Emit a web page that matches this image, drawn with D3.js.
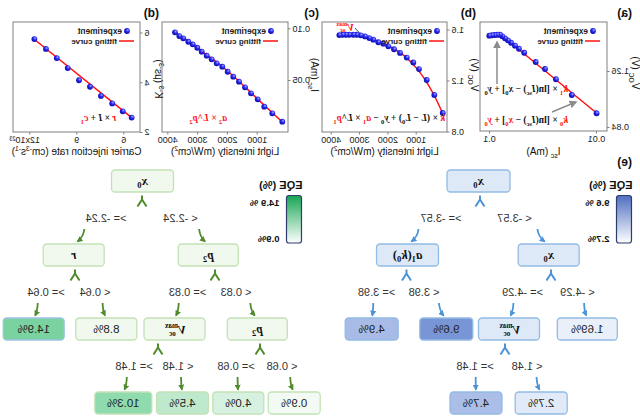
<!DOCTYPE html>
<html><head><meta charset="utf-8">
<script src="https://cdn.jsdelivr.net/npm/d3@7"></script>
<style>body{margin:0;background:#fff}svg{display:block}</style>
</head><body>
<svg id="fig" width="640" height="420"></svg>
<script>
// ---------------- DATA ----------------
// (a) Voc vs Isc
const aIsc = [0.0101,0.0172,0.0242,0.0306,0.0374,0.0479,0.0536,0.0584,0.0636,0.0679,0.0724,0.0767,0.0806,0.0855,0.0904,0.0958,0.1015];
const aVoc = [0.943,1.08,1.198,1.275,1.3275,1.397,1.427,1.45,1.472,1.49,1.505,1.52,1.532,1.532,1.53,1.528,1.525];
const aFitIsc = [0.00958,0.0824,0.1015];
const aFitVoc = [0.93,1.543,1.528];
const aXTicks = [0.01,0.1], aYTicks = [0.84,1.26];
// (b) Voc vs light intensity
const bLight = [81,378,646,918,1119,1352,1588,1800,2001,2177,2354,2531,2672,2824,2976,3117,3237,3378,3494,3611,3731];
const bVoc = [0.945,1.087,1.204,1.29,1.342,1.38,1.416,1.445,1.468,1.489,1.5,1.52,1.533,1.546,1.554,1.559,1.559,1.559,1.559,1.559,1.556];
const bFitL = [35,400,700,1000,1500,2000,2500,3000,3400,3750];
const bFitV = [0.919,1.09,1.205,1.295,1.405,1.47,1.52,1.553,1.561,1.556];
const bXTicks = [1000,2000,3000,4000], bYTicks = [0.8,1.2,1.6];
// (c) Isc vs light intensity
const cLight = [174,510,779,1000,1225,1426,1628,1819,2007,2188,2376,2544,2711,2879,3027,3181,3329,3497,3631,3775];
const cIsc = [0.0097,0.0178,0.0242,0.0313,0.0371,0.0429,0.0484,0.0532,0.058,0.0629,0.0661,0.07,0.0735,0.0774,0.0812,0.0845,0.087,0.0903,0.0925,0.0961];
const cFitL = [140,1000,2000,3000,3800];
const cFitI = [0.0085,0.0315,0.0585,0.0805,0.0968];
const cXTicks = [1000,2000,3000,4000], cYTicks = [0.05,0.10];
// (d) K vs carrier injection rate (x10^23)
const dRate = [11.74,11.0,10.31,9.61,8.89,8.19,7.49,6.77,6.10,5.53];
const dK = [5.735,5.34,4.97,4.57,4.08,3.82,3.45,3.15,2.83,2.58];
const dFitR = [5.43,11.81], dFitK = [2.53,5.76];
const dXTicks = [6,9,12], dYTicks = [2,4,6];
// (e) decision trees
const blueIds     = ['b0','b1','b2','b3','b4','b5','b6','b7','b8'];
const blueParents = [null,'b0','b0','b1','b1','b4','b4','b2','b2'];
const blueLabels  = ['x0','x0','a1(k0)','1.69%','Vmax','2.7%','4.7%','9.6%','4.9%'];
const blueEdges   = ['','< -3.57','>= -3.57','< -4.29','>= -4.29','< 1.48','>= 1.48','< 3.98','>= 3.98'];
const blueEQE     = [null,null,null,1.69,null,2.7,4.7,9.6,4.9];
const blueRange   = ['9.6 %','2.7%'];
const greenIds     = ['g0','g1','g2','g3','g4','g5','g6','g7','g8','g9','g10'];
const greenParents = [null,'g0','g0','g1','g1','g2','g2','g3','g3','g4','g4'];
const greenLabels  = ['x0','p2','r','p2','Vmax','8.8%','14.9%','0.9%','4.0%','4.5%','10.3%'];
const greenEdges   = ['','< -2.24','>= -2.24','< 0.83','>= 0.83','< 0.64','>= 0.64','< 0.68','>= 0.68','< 1.48','>= 1.48'];
const greenEQE     = [null,null,null,null,null,8.8,14.9,0.9,4.0,4.5,10.3];
const greenRange   = ['14.9 %','0.9%'];

// ---------------- LAYOUT / STYLE ----------------
const SANS = "'Liberation Sans', Arial, Helvetica, sans-serif";
const SERIF = "'Liberation Serif', 'DejaVu Serif', 'Times New Roman', serif";
const RED = '#ff1010';
const blueLayout = {
  b0:{x:161.5,w:63,fork:160}, b1:{x:91.3,w:61,fork:89,lx:125.5}, b2:{x:232.5,w:62,fork:233.5,lx:199},
  b3:{x:52.7,w:60,lx:62.5}, b4:{x:131,w:61,fork:135,lx:117.5}, b5:{x:98.8,w:52,lx:113},
  b6:{x:164,w:52,lx:165}, b7:{x:193.7,w:53,lx:216}, b8:{x:268.3,w:53,lx:263.5}
};
const greenLayout = {
  g0:{x:497.5,w:62,fork:498}, g1:{x:431.7,w:60,fork:425,lx:459.5}, g2:{x:566.3,w:61,fork:565,lx:534},
  g3:{x:382.7,w:60,fork:380,lx:404}, g4:{x:465.5,w:61,fork:482,lx:452.5}, g5:{x:533.7,w:61,lx:545},
  g6:{x:606.3,w:61,lx:594}, g7:{x:345.8,w:52,lx:358}, g8:{x:401.7,w:51,lx:404},
  g9:{x:457.5,w:52,lx:462}, g10:{x:516.7,w:57,lx:506}
};
const blueFill = d3.scaleLinear().domain([1.69,2.7,4.8,9.6]).range(['#e9f0fa','#e1eaf8','#a8bce6','#7896d5']).clamp(true);
const greenFill = d3.scaleOrdinal().domain([0.9,4.0,4.5,8.8,10.3,14.9]).range(['#f3faf3','#d6f1df','#bfe9cd','#f1f9ef','#8fdbae','#7ad2a0']);
const blueStyle = {edge:'#4b93d6', inFill:'#dde9f7', stroke:'#93bbe4', fill:v=>blueFill(v), leafStroke:v=>'#93bbe4', top:'#4f6ec0'};
const greenStyle = {edge:'#4f8a2b', inFill:'#f1f8ee', stroke:'#c2e2b6', fill:v=>greenFill(v), leafStroke:v=>v===14.9?'#9fc4e4':'#c2e2b6', top:'#16a554'};
const depthY = d3.scaleLinear().domain([0,3]).range([181,403]);

// ---------------- DRAW ----------------
const svg = d3.select('#fig');
const defs = svg.append('defs');
const rg = defs.append('radialGradient').attr('id','ball').attr('cx','38%').attr('cy','35%').attr('r','65%');
rg.append('stop').attr('offset','0%').attr('stop-color','#a8a8ff');
rg.append('stop').attr('offset','45%').attr('stop-color','#2828f0');
rg.append('stop').attr('offset','100%').attr('stop-color','#0c0cb0');
function arrowMarker(id,color,size){
  defs.append('marker').attr('id',id).attr('viewBox','0 0 10 10').attr('refX',8).attr('refY',5)
    .attr('markerWidth',size).attr('markerHeight',size).attr('orient','auto').attr('markerUnits','userSpaceOnUse')
    .append('path').attr('d','M0,0 L10,5 L0,10 z').attr('fill',color);
}
arrowMarker('arGray','#8c8c8c',8);
arrowMarker('arBlue','#4b93d6',6);
arrowMarker('arGreen','#4f8a2b',6);

// whole figure is mirrored horizontally
const root = svg.append('g').attr('transform','translate(640,0) scale(-1,1)');

function rich(sel, x, y, parts, size, opts={}){
  const t = sel.append('text').attr('x',x).attr('y',y).attr('font-size',size)
    .attr('font-family',opts.family||SERIF).attr('font-weight',opts.weight||'bold')
    .attr('text-anchor',opts.anchor||'start').attr('fill','#111');
  if (opts.rotate) t.attr('transform',`rotate(-90,${x},${y})`);
  let shift = 0;
  parts.forEach(p=>{
    const target = p.sub ? size*0.28 : p.sup ? -size*0.42 : (p.dy||0);
    const ts = t.append('tspan').text(p.t).attr('dy', target-shift);
    shift = target;
    if (p.dx) ts.attr('dx',p.dx);
    if (p.c) ts.attr('fill',p.c);
    if (p.i) ts.attr('font-style','italic');
    if (p.sub||p.sup) ts.attr('font-size',size*0.68);
    if (p.fs) ts.attr('font-size',p.fs);
    if (p.f) ts.attr('font-family',p.f);
  });
  return t;
}
function vmax(sel, x, y, size, color, anchor){
  const s = size*0.6, w = s*1.85;
  return rich(sel, x, y, [
    {t:'V', i:true, c:color},
    {t:'max', fs:s, dy:-size*0.42, c:color},
    {t:'oc', fs:s, dy:size*0.18, dx:-(w*0.82), c:color}
  ], size, {anchor:anchor||'start'});
}

function panel(cfg){
  const g = root.append('g');
  const [x0,x1,y0,y1] = cfg.box;
  const x = cfg.xs, y = cfg.ys;
  g.append('rect').attr('x',x0).attr('y',y0).attr('width',x1-x0).attr('height',y1-y0)
    .attr('fill','none').attr('stroke','#808080').attr('stroke-width',1);
  const style = s=>{ s.select('.domain').remove(); s.selectAll('line').attr('stroke','#808080');
    s.selectAll('text').attr('font-size',9).attr('font-family',SANS).attr('fill','#222'); };
  g.append('g').attr('transform',`translate(0,${y1})`)
    .call(d3.axisBottom(x).tickValues(cfg.xt).tickSize(2.5).tickPadding(2).tickFormat(cfg.xf)).call(style);
  g.append('g').attr('transform',`translate(${x0},0)`)
    .call(d3.axisLeft(y).tickValues(cfg.yt).tickSize(2.5).tickPadding(2).tickFormat(cfg.yf)).call(style);
  const fit = d3.zip(cfg.fx, cfg.fy);
  g.append('path').attr('d', d3.line().x(d=>x(d[0])).y(d=>y(d[1])).curve(cfg.curve||d3.curveLinear)(fit))
    .attr('fill','none').attr('stroke',RED).attr('stroke-width',1.5);
  g.selectAll('circle.pt').data(d3.zip(cfg.px, cfg.py)).join('circle').attr('class','pt')
    .attr('cx',d=>x(d[0])).attr('cy',d=>y(d[1])).attr('r',2.9).attr('fill','url(#ball)');
  const lg = cfg.legend;
  g.append('circle').attr('cx',lg.dot).attr('cy',31).attr('r',2.9).attr('fill','url(#ball)');
  g.append('text').attr('x',lg.dot+5).attr('y',34).text('experiment').attr('font-size',8.3).attr('font-weight','bold').attr('font-family',SANS).attr('fill','#222');
  g.append('line').attr('x1',lg.l0).attr('x2',lg.l1).attr('y1',41).attr('y2',41).attr('stroke',RED).attr('stroke-width',1.5);
  g.append('text').attr('x',lg.l1+2).attr('y',44).text('fitting curve').attr('font-size',8).attr('font-weight','bold').attr('font-family',SANS).attr('fill','#222');
  g.append('text').attr('x',cfg.tag[0]).attr('y',17).text(cfg.tag[1]).attr('font-size',12).attr('font-weight','bold').attr('font-family',SANS).attr('fill','#111');
  rich(g,(x0+x1)/2,155,cfg.xtitle,10,{family:SANS,weight:'normal',anchor:'middle'});
  rich(g,cfg.ytitle[0],cfg.ytitle[1],cfg.ytitle[2],10,{family:SANS,weight:'normal',anchor:'middle',rotate:true});
  return {g,x,y};
}

// (a)
const pa = panel({box:[33,160,22,131],
  xs:d3.scaleLog().domain([0.01,0.1]).range([43,150]), ys:d3.scaleLinear().domain([0.84,1.26]).range([127,71]),
  xt:aXTicks, yt:aYTicks, xf:d=>String(d), yf:d=>d.toFixed(2),
  px:aIsc, py:aVoc, fx:aFitIsc, fy:aFitVoc,
  legend:{dot:47,l0:40,l1:55}, tag:[8,'(a)'],
  xtitle:[{t:'I'},{t:'sc',sub:true},{t:' (mA)'}],
  ytitle:[8,73,[{t:'V'},{t:'OC',sub:true},{t:' (V)'}]]});
pa.g.append('line').attr('x1',143).attr('y1',84).attr('x2',143).attr('y2',42)
  .attr('stroke','#8c8c8c').attr('stroke-width',1.5).attr('marker-end','url(#arGray)');
pa.g.append('line').attr('x1',88).attr('y1',112).attr('x2',64).attr('y2',102)
  .attr('stroke','#8c8c8c').attr('stroke-width',1.5).attr('marker-end','url(#arGray)');
rich(pa.g,72,92,[{t:'k',c:RED,i:true},{t:'1',c:RED,sub:true},{t:' × [ln('},{t:'I',i:true},{t:'sc',sub:true},{t:') − '},{t:'x',i:true},{t:'0',sub:true},{t:'] + '},{t:'y',i:true},{t:'0',sub:true}],9.5);
rich(pa.g,72,123,[{t:'k',c:RED,i:true},{t:'0',c:RED,sub:true},{t:' × [ln('},{t:'I',i:true},{t:'sc',sub:true},{t:') − '},{t:'x',i:true,c:RED},{t:'0',sub:true,c:RED},{t:'] + '},{t:'y',i:true,c:RED},{t:'0',sub:true,c:RED}],9.5);

// (b)
const pbv = panel({box:[193,318,22,132],
  xs:d3.scaleLinear().domain([1000,4000]).range([223.3,308.3]), ys:d3.scaleLinear().domain([0.8,1.6]).range([131.5,29.5]),
  xt:bXTicks, yt:bYTicks, xf:d=>String(d), yf:d=>d.toFixed(1),
  px:bLight, py:bVoc, fx:bFitL, fy:bFitV, curve:d3.curveMonotoneX,
  legend:{dot:203,l0:196,l1:211}, tag:[164,'(b)'],
  xtitle:[{t:'Light intensity (mW/cm'},{t:'2',sup:true},{t:')'}],
  ytitle:[169,75,[{t:'V'},{t:'OC',sub:true},{t:' (V)'}]]});
pbv.g.append('line').attr('x1',285).attr('y1',28).attr('x2',280.5).attr('y2',33).attr('stroke','#222').attr('stroke-width',0.8);
vmax(pbv.g, 286, 30.5, 10, RED);
rich(pbv.g,195,121,[{t:'k',c:RED,i:true},{t:' × ('},{t:'L',i:true},{t:' − '},{t:'L',i:true},{t:'0',sub:true},{t:') + '},{t:'y',i:true},{t:'0',sub:true},{t:' − '},{t:'a',c:RED,i:true},{t:'1',c:RED,sub:true},{t:' × '},{t:'L',i:true},{t:'^'},{t:'p',c:RED,i:true},{t:'1',c:RED,sub:true}],9.5);

// (c)
const pc = panel({box:[352,478,22,132],
  xs:d3.scaleLinear().domain([1000,4000]).range([382.3,471.7]), ys:d3.scaleLinear().domain([0.05,0.10]).range([80,28.3]),
  xt:cXTicks, yt:cYTicks, xf:d=>String(d), yf:d=>d.toFixed(2),
  px:cLight, py:cIsc, fx:cFitL, fy:cFitI, curve:d3.curveMonotoneX,
  legend:{dot:369,l0:362,l1:377}, tag:[321,'(c)'],
  xtitle:[{t:'Light intensity (mW/cm'},{t:'2',sup:true},{t:')'}],
  ytitle:[329,75,[{t:'I'},{t:'sc',sub:true},{t:' (mA)'}]]});
rich(pc.g,413,121,[{t:'a',c:RED,i:true},{t:'2',c:RED,sub:true},{t:' × ',c:RED},{t:'L',c:RED,i:true},{t:'^',c:RED},{t:'p',c:RED,i:true},{t:'2',c:RED,sub:true}],9.5);

// (d)
const pdk = panel({box:[500,627,22,132],
  xs:d3.scaleLinear().domain([6,9]).range([515.7,562.7]), ys:d3.scaleLinear().domain([2,6]).range([132,32.5]),
  xt:dXTicks, yt:dYTicks, xf:d=>d===12?'12x10²³':String(d), yf:d=>String(d),
  px:dRate, py:dK, fx:dFitR, fy:dFitK,
  legend:{dot:513,l0:506,l1:521}, tag:[481,'(d)'],
  xtitle:[{t:'Carrier  injection rate (cm'},{t:'-3',sup:true},{t:'s'},{t:'-1',sup:true},{t:')'}],
  ytitle:[485,79,[{t:'K'},{t:'-3',sup:true},{t:' (μs'},{t:'-3',sup:true},{t:')'}]]});
pdk.g.selectAll('g.tick text').filter(d=>d===12).attr('dx',5);
rich(pdk.g,524,121,[{t:'r',c:RED,i:true},{t:' × '},{t:'I',i:true},{t:' + '},{t:'c',c:RED,i:true},{t:'1',c:RED,sub:true}],9.5);

// (e) label
root.append('text').attr('x',8).attr('y',166).text('(e)').attr('font-size',12).attr('font-weight','bold').attr('font-family',SANS).attr('fill','#111');

// ---------------- TREES ----------------
function nodeLabel(g, cx, cy, lab, isLeaf){
  if (isLeaf){
    g.append('text').attr('x',cx).attr('y',cy+4).attr('text-anchor','middle').text(lab)
      .attr('font-size',11.5).attr('font-family',SANS).attr('fill','#222');
    return;
  }
  if (lab==='Vmax'){ vmax(g, cx-1, cy+4.5, 12, '#111', 'middle'); return; }
  const m = {
    'x0':[{t:'x',i:true},{t:'0',sub:true}],
    'p2':[{t:'p',i:true},{t:'2',sub:true}],
    'r':[{t:'r',i:true}],
    'a1(k0)':[{t:'a',i:true},{t:'1',sub:true},{t:'('},{t:'k',i:true},{t:'0',sub:true},{t:')'}]
  }[lab];
  rich(g,cx,cy+3.5,m,12.5,{anchor:'middle'});
}

function tree(ids, parents, labels, edges, eqe, layout, st, markerId){
  const g = root.append('g');
  const data = ids.map((id,i)=>({id, parentId:parents[i], label:labels[i], edge:edges[i], eqe:eqe[i]}));
  const h = d3.stratify()(data);
  const H = 22;
  h.each(n=>{ n.cx = layout[n.id].x; n.cy = depthY(n.depth); n.w = layout[n.id].w; });
  h.each(n=>{
    if (!n.children) return;
    const fx = layout[n.id].fork, top = n.cy + H/2 + 3.5;
    g.append('path').attr('d',`M${fx},${top} L${fx},${top+4} M${fx-4.5},${top+11} L${fx},${top+4} L${fx+4.5},${top+11}`)
      .attr('fill','none').attr('stroke',st.edge).attr('stroke-width',2).attr('stroke-linejoin','round');
    n.children.forEach(c=>{
      const lx = layout[c.id].lx, dxl = lx - c.cx;
      const ly = n.cy + 37;
      g.append('text').attr('x',lx).attr('y',ly+4).attr('text-anchor','middle').text(c.data.edge)
        .attr('font-size',11).attr('font-family',SANS).attr('fill','#333');
      const ctop = c.cy - H/2;
      const sx = c.cx + 0.33*dxl, ex = c.cx + 0.12*dxl;
      g.append('path').attr('d',`M${sx},${ctop-15} Q${sx+(ex-sx)*0.15},${ctop-7} ${ex},${ctop-2.5}`)
        .attr('fill','none').attr('stroke',st.edge).attr('stroke-width',1.8).attr('marker-end',`url(#${markerId})`);
    });
  });
  h.each(n=>{
    const leaf = !n.children;
    g.append('rect').attr('x',n.cx-n.w/2).attr('y',n.cy-H/2).attr('width',n.w).attr('height',H).attr('rx',3.5)
      .attr('fill', leaf ? st.fill(n.data.eqe) : st.inFill)
      .attr('stroke', leaf ? st.leafStroke(n.data.eqe) : st.stroke).attr('stroke-width',1.3);
    nodeLabel(g, n.cx, n.cy, n.data.label, leaf);
  });
}
tree(blueIds, blueParents, blueLabels, blueEdges, blueEQE, blueLayout, blueStyle, 'arBlue');
tree(greenIds, greenParents, greenLabels, greenEdges, greenEQE, greenLayout, greenStyle, 'arGreen');

function colorbar(x, labs, top, id){
  const gr = defs.append('linearGradient').attr('id',id).attr('x1',0).attr('x2',0).attr('y1',0).attr('y2',1);
  gr.append('stop').attr('offset','0%').attr('stop-color',top);
  gr.append('stop').attr('offset','100%').attr('stop-color','#ffffff');
  root.append('text').attr('x',x-1).attr('y',189).text('EQE (%)').attr('font-size',11).attr('font-weight','bold').attr('font-family',SANS).attr('fill','#111');
  root.append('rect').attr('x',x).attr('y',195.5).attr('width',15).attr('height',47.5).attr('rx',2.5)
    .attr('fill',`url(#${id})`).attr('stroke','#2d3d6b').attr('stroke-width',1.2);
  root.append('text').attr('x',x+22).attr('y',206).text(labs[0]).attr('font-size',9.5).attr('font-weight','bold').attr('font-family',SANS).attr('fill','#111');
  root.append('text').attr('x',x+22).attr('y',242).text(labs[1]).attr('font-size',9.5).attr('font-weight','bold').attr('font-family',SANS).attr('fill','#111');
}
colorbar(8.5, blueRange, blueStyle.top, 'gBlue');
colorbar(338.5, greenRange, greenStyle.top, 'gGreen');
</script>
</body></html>
